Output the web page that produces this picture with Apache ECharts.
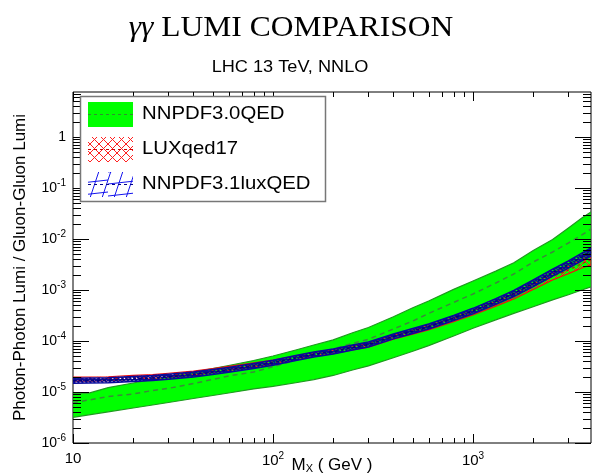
<!DOCTYPE html>
<html>
<head>
<meta charset="utf-8">
<script src="https://cdn.jsdelivr.net/npm/echarts@6/dist/echarts.min.js"></script>
<style>
html, body { margin: 0; padding: 0; background: #fff; }
#chart { width: 592px; height: 473px; }
</style>
</head>
<body>
<div id="chart"></div>
<script>
// Invariant mass of the photon pair, GeV
const massGeV = [10, 12, 15, 20, 25, 30, 40, 50, 60, 80, 100, 130, 160, 200, 250, 300,
  400, 500, 600, 800, 1000, 1300, 1600, 2000, 2500, 3000, 3500, 3890];

// NNPDF3.0QED: band and central value of the photon-photon / gluon-gluon ratio
const nnpdf30Upper = [9.45e-6, 9.5e-6, 1.22e-5, 1.50e-5, 1.76e-5, 1.97e-5, 2.47e-5, 2.89e-5, 3.31e-5, 4.15e-5,
  5.08e-5, 6.66e-5, 8.35e-5, 1.05e-4, 1.45e-4, 1.84e-4, 2.98e-4, 4.48e-4, 6.08e-4, 1.03e-3,
  1.50e-3, 2.34e-3, 3.41e-3, 5.97e-3, 9.73e-3, 1.64e-2, 2.58e-2, 3.38e-2];
const nnpdf30Central = [6.17e-6, 6.97e-6, 8.16e-6, 9.14e-6, 1.07e-5, 1.18e-5, 1.47e-5, 1.76e-5, 2.06e-5, 2.47e-5,
  3.13e-5, 4.19e-5, 5.31e-5, 6.97e-5, 9.02e-5, 1.08e-4, 1.72e-4, 2.47e-4, 3.46e-4, 5.69e-4,
  8.35e-4, 1.37e-3, 2.06e-3, 3.54e-3, 5.56e-3, 8.35e-3, 1.20e-2, 1.57e-2];
const nnpdf30Lower = [3.19e-6, 3.57e-6, 4.09e-6, 4.86e-6, 5.56e-6, 6.22e-6, 7.46e-6, 8.54e-6, 9.55e-6, 1.15e-5,
  1.29e-5, 1.52e-5, 1.75e-5, 2.11e-5, 2.70e-5, 3.25e-5, 4.7e-5, 6.3e-5, 8.1e-5, 1.25e-4,
  1.78e-4, 2.6e-4, 3.48e-4, 4.7e-4, 6.4e-4, 8.05e-4, 1.0e-3, 1.15e-3];

// LUXqed17
const luxUpper = [1.96e-5, 1.97e-5, 1.99e-5, 2.11e-5, 2.20e-5, 2.33e-5, 2.57e-5, 2.89e-5, 3.19e-5, 3.72e-5,
  4.23e-5, 5.14e-5, 5.96e-5, 6.75e-5, 8.0e-5, 9.07e-5, 1.29e-4, 1.63e-4, 1.98e-4, 2.88e-4,
  3.92e-4, 5.95e-4, 8.41e-4, 1.31e-3, 2.12e-3, 2.90e-3, 4.02e-3, 4.86e-3];
const luxCentral = [1.79e-5, 1.80e-5, 1.82e-5, 1.93e-5, 2.01e-5, 2.13e-5, 2.35e-5, 2.64e-5, 2.91e-5, 3.40e-5,
  3.86e-5, 4.69e-5, 5.44e-5, 6.16e-5, 7.31e-5, 8.28e-5, 1.18e-4, 1.49e-4, 1.80e-4, 2.62e-4,
  3.56e-4, 5.36e-4, 7.51e-4, 1.16e-3, 1.83e-3, 2.46e-3, 3.29e-3, 3.89e-3];
const luxLower = [1.63e-5, 1.64e-5, 1.66e-5, 1.76e-5, 1.84e-5, 1.95e-5, 2.15e-5, 2.41e-5, 2.66e-5, 3.11e-5,
  3.53e-5, 4.28e-5, 4.97e-5, 5.63e-5, 6.68e-5, 7.56e-5, 1.08e-4, 1.36e-4, 1.64e-4, 2.38e-4,
  3.24e-4, 4.83e-4, 6.71e-4, 1.03e-3, 1.58e-3, 2.09e-3, 2.70e-3, 3.11e-3];

// NNPDF3.1luxQED
const nnpdf31Upper = [1.87e-5, 1.88e-5, 1.90e-5, 2.01e-5, 2.10e-5, 2.23e-5, 2.46e-5, 2.76e-5, 3.04e-5, 3.62e-5,
  4.19e-5, 5.19e-5, 6.08e-5, 6.95e-5, 8.34e-5, 9.55e-5, 1.37e-4, 1.76e-4, 2.15e-4, 3.16e-4,
  4.37e-4, 6.78e-4, 9.81e-4, 1.57e-3, 2.57e-3, 3.73e-3, 5.28e-3, 6.67e-3];
const nnpdf31Central = [1.67e-5, 1.68e-5, 1.70e-5, 1.80e-5, 1.88e-5, 1.99e-5, 2.20e-5, 2.47e-5, 2.72e-5, 3.24e-5,
  3.75e-5, 4.64e-5, 5.44e-5, 6.22e-5, 7.46e-5, 8.54e-5, 1.23e-4, 1.57e-4, 1.92e-4, 2.82e-4,
  3.87e-4, 5.95e-4, 8.53e-4, 1.35e-3, 2.20e-3, 3.16e-3, 4.44e-3, 5.56e-3];
const nnpdf31Lower = [1.49e-5, 1.50e-5, 1.52e-5, 1.61e-5, 1.68e-5, 1.78e-5, 1.96e-5, 2.21e-5, 2.43e-5, 2.89e-5,
  3.35e-5, 4.14e-5, 4.86e-5, 5.56e-5, 6.67e-5, 7.63e-5, 1.10e-4, 1.40e-4, 1.72e-4, 2.52e-4,
  3.42e-4, 5.22e-4, 7.42e-4, 1.16e-3, 1.88e-3, 2.68e-3, 3.73e-3, 4.63e-3];

// Axis ranges and tick positions
const X_MIN = 10, X_MAX = 3890;
const Y_MIN = 1e-6, Y_MAX = 7.62;
const xDecades = [10, 100, 1000];
const yDecades = [1e-6, 1e-5, 1e-4, 1e-3, 1e-2, 1e-1, 1];
const minorSteps = [2, 3, 4, 5, 6, 7, 8, 9];

const legendLabels = ['NNPDF3.0QED', 'LUXqed17', 'NNPDF3.1luxQED'];

const SANS = '"Liberation Sans", Arial, Helvetica, sans-serif';
const SERIF = '"Liberation Serif", "Times New Roman", serif';

// Hatch patterns drawn on small repeating canvases
function makeTile(w, h, color, width, draw) {
  const c = document.createElement('canvas');
  c.width = w; c.height = h;
  const ctx = c.getContext('2d');
  ctx.strokeStyle = color;
  ctx.lineWidth = width;
  ctx.beginPath();
  draw(ctx, w, h);
  ctx.stroke();
  return c;
}
function crossLines(ctx, w, h) {
  ctx.moveTo(-1, -1); ctx.lineTo(w + 1, h + 1);
  ctx.moveTo(w + 1, -1); ctx.lineTo(-1, h + 1);
}
const redCross = makeTile(9, 9, '#ff2020', 1, crossLines);
const blueGrid = makeTile(36, 36, '#1515ee', 1, (ctx) => {
  for (let k = -4; k <= 4; k++) {
    ctx.moveTo(12 * k + 12, 0); ctx.lineTo(12 * k, 36);
    ctx.moveTo(0, 12 * k + 4); ctx.lineTo(36, 12 * k);
  }
});
const blueDense = makeTile(4, 4, '#0c0c92', 1.5, crossLines);
const redPattern = { image: redCross, repeat: 'repeat' };
const bluePattern = { image: blueGrid, repeat: 'repeat' };
const blueBandPattern = { image: blueDense, repeat: 'repeat' };

function decadeLabel(v) {
  const lg = Math.log10(v);
  const e = Math.round(lg);
  if (Math.abs(lg - e) > 1e-6) return '';
  if (e === 0) return '{b|1}';
  if (e === 1) return '{b|10}';
  return '{b|10}{s|' + e + '}';
}

function bandSeries(name, lower, upper, fill, stroke, lineWidth, z) {
  return {
    type: 'custom',
    name: name,
    coordinateSystem: 'cartesian2d',
    data: [[massGeV[0], lower[0]]],
    z: z,
    silent: true,
    clip: true,
    renderItem: function (params, api) {
      const pts = [];
      for (let i = 0; i < massGeV.length; i++) pts.push(api.coord([massGeV[i], upper[i]]));
      for (let i = massGeV.length - 1; i >= 0; i--) pts.push(api.coord([massGeV[i], lower[i]]));
      return { type: 'polygon', shape: { points: pts }, style: { fill: fill, stroke: stroke, lineWidth: lineWidth } };
    }
  };
}

function curveSeries(name, values, color, width, dash, z) {
  return {
    type: 'line',
    name: name,
    data: massGeV.map((m, i) => [m, values[i]]),
    showSymbol: false,
    symbol: 'none',
    silent: true,
    z: z,
    lineStyle: { color: color, width: width, type: dash }
  };
}

function crisp(v) { return Math.round(v) + 0.5; }

// Tick marks on all four sides of the frame
const xTickData = [];
xDecades.forEach(d => {
  xTickData.push([d, Y_MIN, 1]);
  minorSteps.forEach(m => { if (d * m < X_MAX) xTickData.push([d * m, Y_MIN, 0]); });
});
const yTickData = [];
yDecades.forEach(d => {
  yTickData.push([X_MIN, d, 1]);
  minorSteps.forEach(m => { if (d * m < Y_MAX) yTickData.push([X_MIN, d * m, 0]); });
});

const xTicks = {
  type: 'custom', coordinateSystem: 'cartesian2d', data: xTickData, z: 20, silent: true,
  renderItem: function (params, api) {
    const v = api.value(0);
    const len = api.value(2) ? 9 : 5;
    const b = api.coord([v, Y_MIN]);
    const t = api.coord([v, Y_MAX]);
    const x = crisp(b[0]);
    return { type: 'group', children: [
      { type: 'line', shape: { x1: x, y1: b[1], x2: x, y2: b[1] - len }, style: { stroke: '#000', lineWidth: 1 } },
      { type: 'line', shape: { x1: x, y1: t[1], x2: x, y2: t[1] + len }, style: { stroke: '#000', lineWidth: 1 } }
    ] };
  }
};
const yTicks = {
  type: 'custom', coordinateSystem: 'cartesian2d', data: yTickData, z: 20, silent: true,
  renderItem: function (params, api) {
    const v = api.value(1);
    const len = api.value(2) ? 16 : 8;
    const l = api.coord([X_MIN, v]);
    const r = api.coord([X_MAX, v]);
    const y = crisp(l[1]);
    return { type: 'group', children: [
      { type: 'line', shape: { x1: l[0], y1: y, x2: l[0] + len, y2: y }, style: { stroke: '#000', lineWidth: 1 } },
      { type: 'line', shape: { x1: r[0], y1: y, x2: r[0] - len, y2: y }, style: { stroke: '#000', lineWidth: 1 } }
    ] };
  }
};

// Titles and legend box
const graphics = [
  { type: 'text', z: 100, x: 291, y: 13, scaleX: 1.05,
    style: { text: '{g|γγ} LUMI COMPARISON', fontFamily: SERIF, fontSize: 30, fill: '#000', align: 'center', verticalAlign: 'top',
      rich: { g: { fontFamily: SERIF, fontSize: 30, fontStyle: 'italic', fill: '#000' } } } },
  { type: 'text', z: 100, x: 290, y: 59, scaleX: 1.1,
    style: { text: 'LHC 13 TeV, NNLO', fontFamily: SANS, fontSize: 16.5, fill: '#000', align: 'center', verticalAlign: 'top' } },
  { type: 'rect', z: 100, shape: { x: 80.5, y: 96.5, width: 245, height: 105 }, style: { fill: '#fff', stroke: '#777', lineWidth: 1.5 } },
  { type: 'rect', z: 101, shape: { x: 88, y: 102, width: 45, height: 25 }, style: { fill: '#00ff00' } },
  { type: 'line', z: 102, shape: { x1: 88, y1: 114.5, x2: 133, y2: 114.5 }, style: { stroke: '#2f8f2f', lineWidth: 1, lineDash: [3, 3] } },
  { type: 'rect', z: 101, shape: { x: 88, y: 137, width: 45, height: 25 }, style: { fill: redPattern } },
  { type: 'line', z: 102, shape: { x1: 88, y1: 149.5, x2: 133, y2: 149.5 }, style: { stroke: '#cc0000', lineWidth: 1, lineDash: [3, 3] } },
  { type: 'rect', z: 101, shape: { x: 88, y: 172, width: 45, height: 25 }, style: { fill: bluePattern } },
  { type: 'line', z: 102, shape: { x1: 88, y1: 184.5, x2: 133, y2: 184.5 }, style: { stroke: '#00008b', lineWidth: 1, lineDash: [3, 3] } }
];
legendLabels.forEach((t, i) => {
  graphics.push({
    type: 'text', z: 102, x: 142, y: 114 + 35 * i, scaleX: 1.1,
    style: { text: t, fontFamily: SANS, fontSize: 18.5, fill: '#000', verticalAlign: 'middle', align: 'left' }
  });
});

const chart = echarts.init(document.getElementById('chart'), null, { renderer: 'canvas' });
chart.setOption({
  animation: false,
  backgroundColor: '#fff',
  grid: { left: 73, top: 92, right: 1, bottom: 30, containLabel: false, outerBoundsMode: 'none',
    show: true, borderColor: '#000', borderWidth: 1, backgroundColor: 'transparent' },
  xAxis: {
    type: 'log', logBase: 10, min: X_MIN, max: X_MAX, splitNumber: 3,
    axisLine: { show: false }, axisTick: { show: false }, splitLine: { show: false },
    axisLabel: {
      margin: 8, showMaxLabel: false, formatter: decadeLabel,
      rich: { b: { fontFamily: SANS, fontSize: 15, color: '#000' },
              s: { fontFamily: SANS, fontSize: 10, color: '#000', padding: [0, 0, 9, 0] } }
    },
    name: '{m|M}{x|X}{m| ( GeV )}', nameLocation: 'middle', nameGap: 13, nameMoveOverlap: false,
    nameTextStyle: { rich: {
      m: { fontFamily: SANS, fontSize: 17, color: '#000' },
      x: { fontFamily: SANS, fontSize: 11, color: '#000', padding: [7, 0, 0, 0] } } }
  },
  yAxis: {
    type: 'log', logBase: 10, min: Y_MIN, max: Y_MAX, splitNumber: 7,
    axisLine: { show: false }, axisTick: { show: false }, splitLine: { show: false },
    axisLabel: {
      margin: 7, showMaxLabel: false, formatter: decadeLabel,
      rich: { b: { fontFamily: SANS, fontSize: 14, color: '#000' },
              s: { fontFamily: SANS, fontSize: 10, color: '#000', padding: [0, 0, 9, 0] } }
    },
    name: 'Photon-Photon Lumi / Gluon-Gluon Lumi', nameLocation: 'middle', nameGap: 44, nameRotate: 90,
    nameMoveOverlap: false,
    nameTextStyle: { fontFamily: SANS, fontSize: 17, color: '#000' }
  },
  graphic: graphics,
  series: [
    bandSeries('NNPDF3.0QED', nnpdf30Lower, nnpdf30Upper, '#00ff00', '#1f9a1f', 1.2, 2),
    curveSeries('NNPDF3.0QED central', nnpdf30Central, '#3a8a3a', 1.5, [5, 4], 3),
    bandSeries('LUXqed17', luxLower, luxUpper, redPattern, '#ee1111', 1.2, 4),
    curveSeries('LUXqed17 central', luxCentral, '#cc0000', 1, [3, 3], 5),
    bandSeries('NNPDF3.1luxQED', nnpdf31Lower, nnpdf31Upper, blueBandPattern, '#0a0a9a', 1.5, 6),
    curveSeries('NNPDF3.1luxQED central', nnpdf31Central, '#00007a', 1.5, [3, 3], 7),
    xTicks,
    yTicks
  ]
});
</script>
</body>
</html>
